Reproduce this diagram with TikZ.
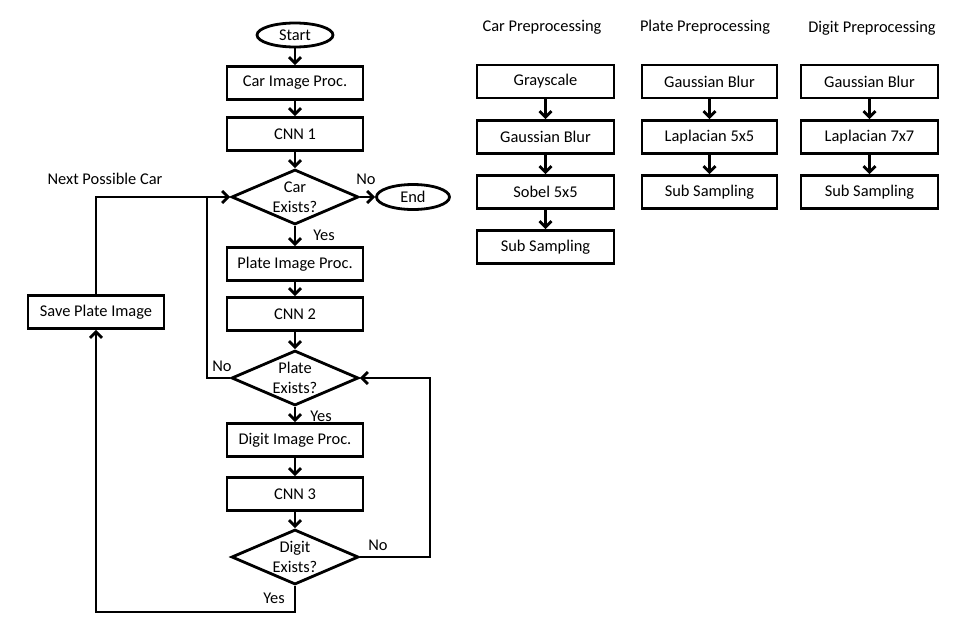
\documentclass[tikz,border=0pt]{standalone}
\usepackage{fontspec}
\setmainfont{Carlito}
\usetikzlibrary{shapes.geometric,arrows.meta}
\begin{document}
\begin{tikzpicture}[x=1pt,y=-1pt,
  font=\fontsize{16.4}{19}\selectfont,
  box/.style={draw,line width=2.8pt,minimum width=136pt,minimum height=33pt,inner sep=0pt},
  term/.style={draw,ellipse,line width=2.8pt,minimum width=76pt,minimum height=24pt,inner sep=0pt},
  dec/.style={draw,diamond,line width=2.8pt,minimum width=127pt,minimum height=55pt,inner sep=0pt,aspect=2.3},
  dectext/.style={align=center,font=\fontsize{16.4}{19.5}\selectfont},
  lbl/.style={inner sep=0pt},
  ttl/.style={inner sep=0pt},
  conn/.style={line width=2.8pt,-{Straight Barb[length=6pt,width=12pt,line width=2.8pt]}},
  line/.style={line width=2.8pt}]
\useasboundingbox (0,0) rectangle (955,630);
% main flow
\node[term] (start) at (295,35) {Start};
\node[box] (carproc) at (295,83) {Car Image Proc.};
\node[box] (cnn1) at (295,134) {CNN 1};
\node[dec,label={[dectext]center:Car\\Exists?}] (cardec) at (295,197) {};
\node[term,minimum width=73pt,minimum height=25pt] (end) at (413,197) {End};
\node[box] (plateproc) at (295,264) {Plate Image Proc.};
\node[box] (cnn2) at (295,314) {CNN 2};
\node[dec,label={[dectext]center:Plate\\Exists?}] (platedec) at (295,378) {};
\node[box] (digitproc) at (295,440) {Digit Image Proc.};
\node[box] (cnn3) at (295,494) {CNN 3};
\node[dec,label={[dectext]center:Digit\\Exists?}] (digitdec) at (295,557) {};
\node[box] (save) at (96,312) {Save Plate Image};
% labels
\node[lbl] (nextcar) at (105,179) {Next Possible Car};
\node[lbl] (noA) at (366,179) {No};
\node[lbl] (yesA) at (324,235) {Yes};
\node[lbl] (noB) at (222,366) {No};
\node[lbl] (yesB) at (321,416) {Yes};
\node[lbl] (noC) at (378,545) {No};
\node[lbl] (yesC) at (274,598) {Yes};
% coordinates
\coordinate (bl) at (96,612);
\coordinate (br) at (295,612);
\coordinate (tl) at (96,197);
\coordinate (pj) at (207,197);
\coordinate (pl) at (207,378);
\coordinate (rt) at (430,378);
\coordinate (rb) at (430,557);
% connectors
\draw[conn] (start) -- (carproc);
\draw[conn] (carproc) -- (cnn1);
\draw[conn] (cnn1) -- (cardec);
\draw[conn] (cardec) -- (end);
\draw[conn] (cardec) -- (plateproc);
\draw[conn] (plateproc) -- (cnn2);
\draw[conn] (cnn2) -- (platedec);
\draw[conn] (platedec) -- (digitproc);
\draw[conn] (digitproc) -- (cnn3);
\draw[conn] (cnn3) -- (digitdec);
\draw[conn] (save.north) -- (tl) -- (cardec.west);
\draw[line] (platedec.west) -- (pl) -- (pj);
\draw[conn] (digitdec.east) -- (rb) -- (rt) -- (platedec.east);
\draw[conn] (digitdec.south) -- (br) -- (bl) -- (save.south);
% right side
\node[ttl] (t1) at (542,27) {Car Preprocessing};
\node[ttl] (t2) at (705,27) {Plate Preprocessing};
\node[ttl] (t3) at (872,28) {Digit Preprocessing};
\node[box,minimum width=137pt] (c1) at (545.5,81.5) {Grayscale};
\node[box,minimum width=137pt] (c2) at (545.5,137) {Gaussian Blur};
\node[box,minimum width=137pt] (c3) at (545.5,192) {Sobel 5x5};
\node[box,minimum width=137pt] (c4) at (545.5,247) {Sub Sampling};
\node[box,minimum width=135pt] (p1) at (709.5,81.5) {Gaussian Blur};
\node[box,minimum width=135pt] (p2) at (709.5,137) {Laplacian 5x5};
\node[box,minimum width=135pt] (p3) at (709.5,192) {Sub Sampling};
\node[box,minimum width=137pt] (d1) at (869.5,81.5) {Gaussian Blur};
\node[box,minimum width=137pt] (d2) at (869.5,137) {Laplacian 7x7};
\node[box,minimum width=137pt] (d3) at (869.5,192) {Sub Sampling};
\draw[conn] (c1) -- (c2);
\draw[conn] (c2) -- (c3);
\draw[conn] (c3) -- (c4);
\draw[conn] (p1) -- (p2);
\draw[conn] (p2) -- (p3);
\draw[conn] (d1) -- (d2);
\draw[conn] (d2) -- (d3);
\end{tikzpicture}
\end{document}
